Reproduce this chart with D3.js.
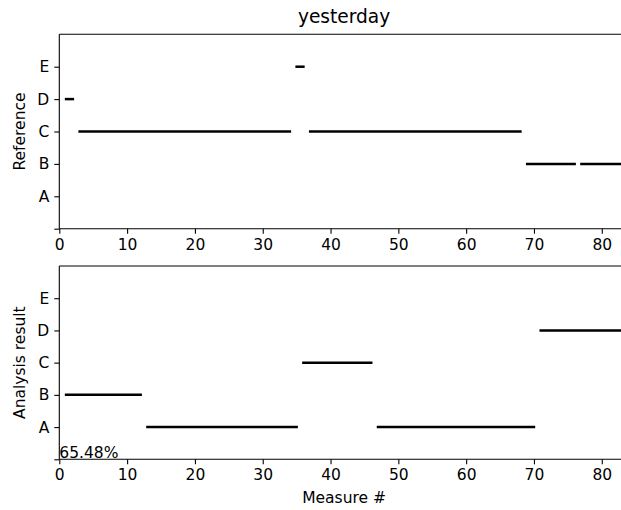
<!DOCTYPE html>
<html>
<head>
<meta charset="utf-8">
<script src="https://cdn.jsdelivr.net/npm/d3@7"></script>
<style>
  body { margin: 0; background: #fff; }
  svg { display: block; }
  text { font-family: "DejaVu Sans", sans-serif; fill: #000; }
</style>
</head>
<body>
<svg id="chart" width="621" height="510"></svg>
<script>
// Classes on the y axis (tick at -1 left blank)
const classTicks = [-1, 0, 1, 2, 3, 4];
const classLabels = ["", "A", "B", "C", "D", "E"];
const xTicks = [0, 10, 20, 30, 40, 50, 60, 70, 80];
const measureCount = 84;

// Reference runs: first measure, last measure, class
const refStart = [1, 3, 35, 37, 69, 77];
const refEnd   = [2, 34, 36, 68, 76, 84];
const refClass = ["D", "C", "E", "C", "B", "B"];

// Analysis result runs
const resStart = [1, 13, 36, 47, 71];
const resEnd   = [12, 35, 46, 70, 84];
const resClass = ["B", "A", "C", "A", "D"];

const accuracyText = "65.48%";
const titleText = "yesterday";

const svg = d3.select("#chart");
const left = 59.3, right = 628.9;
const panels = [
  { top: 34.3, bottom: 228.7, label: "Reference", start: refStart, end: refEnd, cls: refClass },
  { top: 266.0, bottom: 459.3, label: "Analysis result", start: resStart, end: resEnd, cls: resClass }
];

const x = d3.scaleLinear().domain([0, measureCount]).range([left, right]);
const classIndex = c => classLabels.indexOf(c) - 1;

panels.forEach((p, i) => {
  const y = d3.scaleLinear().domain([-1, 5]).range([p.bottom, p.top]);
  const g = svg.append("g");

  // run segments
  const runs = p.start.map((s, k) => ({ s, e: p.end[k], c: p.cls[k] }));
  g.selectAll("line.run").data(runs).enter().append("line")
    .attr("class", "run")
    .attr("x1", d => x(d.s)).attr("x2", d => x(d.e))
    .attr("y1", d => y(classIndex(d.c))).attr("y2", d => y(classIndex(d.c)))
    .attr("stroke", "#000").attr("stroke-width", 2.5)
    .attr("stroke-linecap", "square");

  // axes
  const yAxis = d3.axisLeft(y).tickValues(classTicks)
    .tickFormat((d, k) => classLabels[k]).tickSize(5).tickPadding(5);
  const gy = g.append("g").attr("transform", `translate(${left},0)`).call(yAxis);
  const xAxis = d3.axisBottom(x).tickValues(xTicks).tickSize(5).tickPadding(5);
  const gx = g.append("g").attr("transform", `translate(0,${p.bottom})`).call(xAxis);
  [gx, gy].forEach(a => {
    a.select(".domain").remove();
    a.selectAll("line").attr("stroke", "#000").attr("stroke-width", 1.1);
    a.selectAll("text").style("font-size", "15.5px").attr("fill", "#000")
      .style("font-family", "DejaVu Sans, sans-serif");
  });

  // spines: left, top, bottom
  const spine = [[left, p.top, left, p.bottom], [left, p.top, right, p.top], [left, p.bottom, right, p.bottom]];
  g.selectAll("line.spine").data(spine).enter().append("line")
    .attr("class", "spine")
    .attr("x1", d => d[0]).attr("y1", d => d[1]).attr("x2", d => d[2]).attr("y2", d => d[3])
    .attr("stroke", "#000").attr("stroke-width", 1.1);

  // y label
  g.append("text")
    .attr("transform", `translate(25,${(p.top + p.bottom) / 2}) rotate(-90)`)
    .attr("text-anchor", "middle")
    .style("font-size", "15.5px")
    .text(p.label);

  if (i === 1) {
    g.append("text")
      .attr("x", x(0)).attr("y", y(-1) - 1)
      .style("font-size", "15.5px")
      .attr("fill", "#222")
      .text(accuracyText);
    g.append("text")
      .attr("x", (left + right) / 2).attr("y", 503)
      .attr("text-anchor", "middle")
      .style("font-size", "15.5px")
      .text("Measure #");
  } else {
    g.append("text")
      .attr("x", (left + right) / 2).attr("y", 23)
      .attr("text-anchor", "middle")
      .style("font-size", "18.6px")
      .text(titleText);
  }
});
</script>
</body>
</html>
